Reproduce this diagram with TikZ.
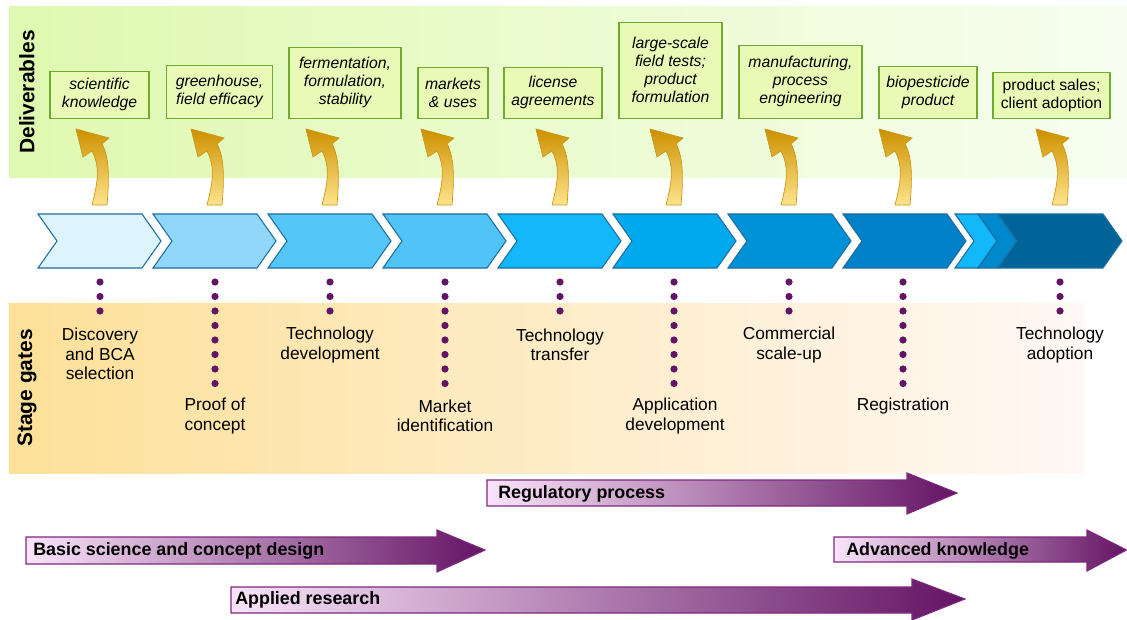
\documentclass[tikz,border=0pt]{standalone}
\usepackage{fontspec}
\setmainfont{Liberation Sans}
\newlength{\pxu}\setlength{\pxu}{0.75pt}
\definecolor{gL}{RGB}{223,249,176}
\definecolor{gR}{RGB}{247,254,240}
\definecolor{oL}{RGB}{253,224,152}
\definecolor{oR}{RGB}{255,248,245}
\definecolor{delfill}{RGB}{232,250,182}
\definecolor{delborder}{RGB}{112,170,48}
\definecolor{chevline}{RGB}{30,110,160}
\definecolor{cA}{RGB}{222,244,253}
\definecolor{cB}{RGB}{145,215,250}
\definecolor{cC}{RGB}{85,198,248}
\definecolor{cD}{RGB}{80,195,247}
\definecolor{cE}{RGB}{18,184,250}
\definecolor{cF}{RGB}{0,168,238}
\definecolor{cG}{RGB}{0,145,215}
\definecolor{cH}{RGB}{0,128,200}
\definecolor{cI}{RGB}{0,136,205}
\definecolor{cJ}{RGB}{0,100,152}
\definecolor{goldT}{RGB}{205,145,0}
\definecolor{goldB}{RGB}{255,228,140}
\definecolor{goldline}{RGB}{200,150,20}
\definecolor{dotcol}{RGB}{100,20,100}
\definecolor{barL}{RGB}{250,228,250}
\definecolor{barM}{RGB}{192,145,188}
\definecolor{barR}{RGB}{100,20,100}
\definecolor{barline}{RGB}{125,40,125}
\begin{document}
\begin{tikzpicture}[x=0.75pt,y=-0.75pt,
  delbox/.style={draw=delborder, fill=delfill, line width=1pt, inner sep=0pt, align=center,
    font=\fontsize{11.8}{13.5}\selectfont\itshape, anchor=south},
  gatelabel/.style={align=center, font=\fontsize{13}{14.5}\selectfont, inner sep=0pt},
  sidelabel/.style={rotate=90, font=\fontsize{15.7}{18}\selectfont\bfseries, inner sep=0pt},
  barlabel/.style={anchor=west, font=\fontsize{13.4}{16}\selectfont\bfseries, inner sep=0pt},
  chev/.style={draw=chevline, line width=0.8pt, line join=miter},
  bararrow/.style={draw=barline, line width=0.8pt, left color=barL, middle color=barM, right color=barR},
  goldarrow/.pic={\path[draw=goldline, line width=0.5pt, top color=goldT, bottom color=goldB]
     (-8,205) .. controls (-3,185) and (1,168) .. (-8,151) -- (-17,157) -- (-24,129)
     -- (9,138) -- (2,144) .. controls (10,158) and (9,182) .. (7,205) -- cycle;}
]
\useasboundingbox (0,0) rectangle (1127,620);
% bands
\fill[left color=gL, right color=gR] (9,7) rectangle (1127,178);
\fill[left color=oL, right color=oR] (9,303) rectangle (1085,473);
% chevrons
\foreach \i/\col in {0/cA,1/cB,2/cC,3/cD,4/cE,5/cF,6/cG,7/cH}{
  \pgfmathsetmacro{\xo}{38+115*\i}
  \filldraw[chev, fill=\col] (\xo,214) -- ++(104,0) -- ++(19,27) -- ++(-19,27) -- ++(-104,0) -- ++(19,-27) -- cycle;
}
\filldraw[chev, fill=cE] (955,214) -- (978,214) -- (997,241) -- (978,268) -- (955,268) -- (974,241) -- cycle;
\filldraw[chev, fill=cI] (978,214) -- (998,214) -- (1017,241) -- (998,268) -- (978,268) -- (997,241) -- cycle;
\filldraw[chev, fill=cJ] (998,214) -- (1103,214) -- (1122,241) -- (1103,268) -- (998,268) -- (1017,241) -- cycle;
% gold arrows
\foreach \cx in {100,215,330,445,560,674,789,903,1060}{
  \path (\cx,0) pic {goldarrow};
}
% deliverables
\node[delbox, minimum width=99\pxu, minimum height=47\pxu] (d1) at (99.5,119) {scientific\\knowledge};
\node[delbox, minimum width=106\pxu, minimum height=53\pxu] (d2) at (219.5,119) {greenhouse,\\field efficacy};
\node[delbox, minimum width=112\pxu, minimum height=71\pxu] (d3) at (345,119) {fermentation,\\formulation,\\stability};
\node[delbox, minimum width=70\pxu, minimum height=51\pxu] (d4) at (453,119) {markets\\\& uses};
\node[delbox, minimum width=98\pxu, minimum height=51\pxu] (d5) at (553,119) {license\\agreements};
\node[delbox, minimum width=103\pxu, minimum height=96\pxu] (d6) at (670.5,119) {large-scale\\field tests;\\product\\formulation};
\node[delbox, minimum width=123\pxu, minimum height=73\pxu] (d7) at (800.5,119) {manufacturing,\\process\\engineering};
\node[delbox, minimum width=98\pxu, minimum height=52\pxu] (d8) at (928,119) {biopesticide\\product};
\node[delbox, minimum width=117\pxu, minimum height=46\pxu, font=\fontsize{11.8}{13.5}\selectfont] (d9) at (1051.5,119) {product sales;\\client adoption};
% side labels
\node[sidelabel] (lblDel) at (27,92) {Deliverables};
\node[sidelabel] (lblSG) at (27,388) {Stage gates};
% dots
\foreach \cx/\n in {100/3,215/8,330/3,445/8,560/3,674/8,789/3,903/8,1060/3}{
  \foreach \k in {1,...,\n}{
    \fill[dotcol] (\cx,{282+14.5*(\k-1)}) circle (2.7pt);
  }
}
% stage gate labels
\node[gatelabel] (g1) at (100,354) {Discovery\\and BCA\\selection};
\node[gatelabel] (g2) at (215,416) {Proof of\\concept};
\node[gatelabel] (g3) at (330,345) {Technology\\development};
\node[gatelabel] (g4) at (445,416) {Market\\identification};
\node[gatelabel] (g5) at (560,345) {Technology\\transfer};
\node[gatelabel] (g6) at (675,416) {Application\\development};
\node[gatelabel] (g7) at (789,345) {Commercial\\scale-up};
\node[gatelabel] (g8) at (903,406) {Registration};
\node[gatelabel] (g9) at (1060,345) {Technology\\adoption};
% bottom arrows
\path[bararrow] (487,480) -- (907,480) -- (907,473) -- (957,493) -- (907,514) -- (907,506) -- (487,506) -- cycle;
\node[barlabel] (reg) at (498,494) {Regulatory process};
\path[bararrow] (26,537) -- (437,537) -- (437,530) -- (485,550) -- (437,572) -- (437,564) -- (26,564) -- cycle;
\node[barlabel] (basic) at (33,551) {Basic science and concept design};
\path[bararrow] (231,587) -- (912,587) -- (912,579) -- (965,599) -- (912,620) -- (912,613) -- (231,613) -- cycle;
\node[barlabel] (applied) at (235,600) {Applied research};
\path[bararrow] (834,537) -- (1087,537) -- (1087,530) -- (1126.5,550) -- (1087,571) -- (1087,562) -- (834,562) -- cycle;
\node[barlabel] (adv) at (846,551) {Advanced knowledge};
\end{tikzpicture}
\end{document}
